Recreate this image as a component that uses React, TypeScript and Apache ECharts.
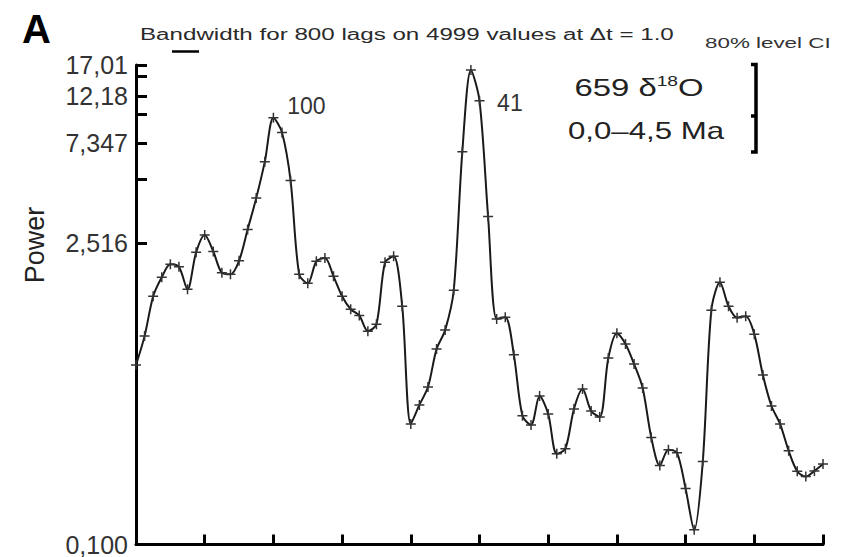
import React, { useEffect, useRef } from "react";
import * as echarts from "echarts";

// Power spectrum values (log scale), one per frequency step
const power = [
  0.684, 0.932, 1.428, 1.75, 2.011, 1.957, 1.539, 2.286, 2.755, 2.31,
  1.836, 1.807, 2.087, 2.922, 4.087, 6.04, 9.665, 8.26, 4.932, 1.807,
  1.641, 2.076, 2.151, 1.768, 1.428, 1.243, 1.163, 0.983, 1.059, 2.054,
  2.19, 1.284, 0.364, 0.446, 0.54, 0.811, 0.994, 1.523, 6.722, 16.14,
  11.59, 3.357, 1.121, 1.142, 0.763, 0.397, 0.36, 0.491, 0.405, 0.264,
  0.279, 0.427, 0.529, 0.418, 0.392, 0.737, 0.962, 0.856, 0.691, 0.535,
  0.315, 0.233, 0.276, 0.267, 0.182, 0.117, 0.243, 1.23, 1.659, 1.284,
  1.136, 1.154, 0.952, 0.614, 0.441, 0.364, 0.273, 0.219, 0.207, 0.22,
  0.237,
];
const FREQ_STEP = 0.000625; // cycles per kyr
const freqs = power.map((_, i) => i * FREQ_STEP);

const xMin = 0;
const xMax = 0.05;
const xInterval = 0.005;

const yMin = 0.1;
const yMax = 17.01;
const yLabelValues = [0.1, 2.516, 7.347, 12.18, 17.01];
const yLabelTexts = ["0,100", "2,516", "7,347", "12,18", "17,01"];
const yTickValues = [0.1, 2.516, 5, 7.347, 10, 12.18, 15, 17.01];

const peakLabels = [
  { index: 16, text: "100" },
  { index: 39, text: "41" },
];

const titleText = "Bandwidth for 800 lags on 4999 values at \u0394t = 1.0";
const ciText = "80% level CI";
const recordText = "659 \u03b4";
const recordText2 = "0,0\u20134,5 Ma";

const FONT = "'Liberation Sans', Arial, Helvetica, sans-serif";

export default function App() {
  const ref = useRef<HTMLDivElement>(null);

  useEffect(() => {
    document.body.style.margin = "0";
    if (!ref.current) return;
    const chart = echarts.init(ref.current, undefined, { renderer: "svg" });

    const fmt = (v: number) => {
      let best = 0;
      let bd = Infinity;
      yLabelValues.forEach((lv, i) => {
        const d = Math.abs(Math.log10(lv) - Math.log10(v));
        if (d < bd) {
          bd = d;
          best = i;
        }
      });
      return yLabelTexts[best];
    };

    const peakOffsets: Record<string, number[]> = { "100": [33, -12], "41": [39, 33] };

    chart.setOption({
      animation: false,
      backgroundColor: "#ffffff",
      grid: { left: 136, right: 18, top: 65, bottom: 10.5, containLabel: false },
      xAxis: {
        type: "value",
        min: xMin,
        max: xMax,
        interval: xInterval,
        axisLine: { show: true, lineStyle: { color: "#000", width: 3 } },
        axisTick: { show: true, inside: true, length: 10, lineStyle: { color: "#000", width: 3 } },
        axisLabel: { show: false },
        splitLine: { show: false },
      },
      yAxis: {
        type: "log",
        logBase: 10,
        min: yMin,
        max: yMax,
        axisLine: { show: true, lineStyle: { color: "#000", width: 3 } },
        axisTick: {
          show: true,
          inside: true,
          length: 11,
          customValues: yTickValues,
          lineStyle: { color: "#000", width: 3 },
        },
        axisLabel: {
          show: true,
          customValues: yLabelValues,
          formatter: (v: number) => fmt(v),
          fontSize: 25,
          color: "#333",
          fontFamily: FONT,
          margin: 8,
        },
        splitLine: { show: false },
        minorTick: { show: false },
      },
      series: [
        {
          type: "line",
          data: freqs.map((f, i) => [f, power[i]]),
          smooth: 0.3,
          showSymbol: true,
          symbol: "path://M3.4,0H4.6V3.4H8V4.6H4.6V8H3.4V4.6H0V3.4H3.4Z",
          symbolSize: 10,
          itemStyle: { color: "#333" },
          lineStyle: { color: "#1a1a1a", width: 2 },
          markPoint: {
            symbol: "circle",
            symbolSize: 1,
            itemStyle: { color: "rgba(0,0,0,0)" },
            label: {
              show: true,
              position: "inside",
              fontSize: 23,
              color: "#333",
              fontFamily: FONT,
              formatter: (p: any) => p.name,
            },
            data: peakLabels.map((pk) => ({
              name: pk.text,
              coord: [freqs[pk.index], power[pk.index]],
              label: { offset: peakOffsets[pk.text] },
            })),
          },
        },
      ],
      graphic: [
        {
          type: "text",
          x: 22,
          y: 29,
          style: {
            text: "A",
            font: `bold 40px ${FONT}`,
            fill: "#000",
            verticalAlign: "middle",
            align: "left",
          },
        },
        {
          type: "text",
          x: 140,
          y: 34,
          scaleX: 1.51,
          style: {
            text: titleText,
            font: `16px ${FONT}`,
            fill: "#2a2a2a",
            verticalAlign: "middle",
            align: "left",
          },
        },
        {
          type: "line",
          shape: { x1: 172, y1: 51.5, x2: 199, y2: 51.5 },
          style: { stroke: "#000", lineWidth: 2.5 },
        },
        {
          type: "text",
          x: 705,
          y: 43,
          scaleX: 1.6,
          style: {
            text: ciText,
            font: `14px ${FONT}`,
            fill: "#333",
            verticalAlign: "middle",
            align: "left",
          },
        },
        {
          type: "text",
          x: 639,
          y: 88,
          scaleX: 1.37,
          style: {
            text: `{a|${recordText}}{s|18}{a|O}`,
            align: "center",
            verticalAlign: "middle",
            fill: "#222",
            rich: {
              a: { fontSize: 24, fontFamily: FONT, lineHeight: 28, fill: "#222" },
              s: { fontSize: 14, fontFamily: FONT, verticalAlign: "top", fill: "#222" },
            },
          },
        },
        {
          type: "text",
          x: 646,
          y: 131,
          scaleX: 1.3,
          style: {
            text: recordText2,
            font: `24px ${FONT}`,
            fill: "#222",
            align: "center",
            verticalAlign: "middle",
          },
        },
        {
          type: "polyline",
          shape: { points: [[751, 64.5], [756, 64.5], [756, 152], [751, 152]] },
          style: { stroke: "#000", lineWidth: 3.5, fill: "none" },
        },
        {
          type: "line",
          shape: { x1: 751, y1: 116, x2: 756, y2: 116 },
          style: { stroke: "#000", lineWidth: 3.5 },
        },
        {
          type: "text",
          x: 35,
          y: 245,
          rotation: Math.PI / 2,
          style: {
            text: "Power",
            font: `27px ${FONT}`,
            fill: "#222",
            align: "center",
            verticalAlign: "middle",
          },
        },
      ],
    });

    return () => {
      chart.dispose();
    };
  }, []);

  return <div ref={ref} style={{ width: 841, height: 557 }} />;
}
